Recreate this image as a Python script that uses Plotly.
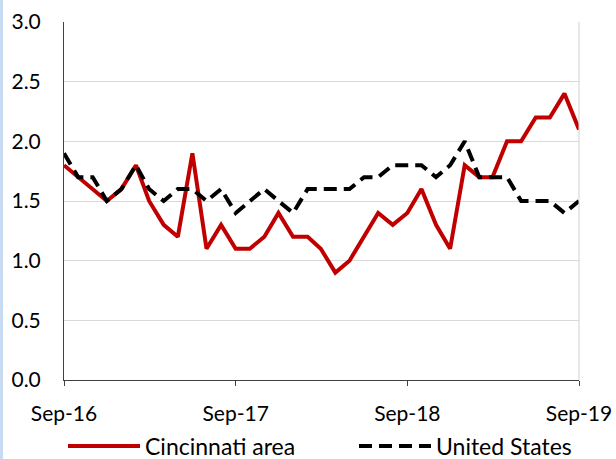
import pandas as pd
import plotly.graph_objects as go

months = pd.date_range("2016-09-01", "2019-09-01", freq="MS")

cincinnati = [1.8, 1.7, 1.6, 1.5, 1.6, 1.8, 1.5, 1.3, 1.2, 1.9, 1.1, 1.3,
              1.1, 1.1, 1.2, 1.4, 1.2, 1.2, 1.1, 0.9, 1.0, 1.2, 1.4, 1.3,
              1.4, 1.6, 1.3, 1.1, 1.8, 1.7, 1.7, 2.0, 2.0, 2.2, 2.2, 2.4, 2.1]
united_states = [1.9, 1.7, 1.7, 1.5, 1.6, 1.8, 1.6, 1.5, 1.6, 1.6, 1.5, 1.6,
                 1.4, 1.5, 1.6, 1.5, 1.4, 1.6, 1.6, 1.6, 1.6, 1.7, 1.7, 1.8,
                 1.8, 1.8, 1.7, 1.8, 2.0, 1.7, 1.7, 1.7, 1.5, 1.5, 1.5, 1.4, 1.5]

tick_dates = ["2016-09-01", "2017-09-01", "2018-09-01", "2019-09-01"]
tick_labels = ["Sep-16", "Sep-17", "Sep-18", "Sep-19"]
y_ticks = [0, 0.5, 1.0, 1.5, 2.0, 2.5, 3.0]

FONT = "Lato"
W, H = 616, 459
ML, MR, MT, MB = 64, 37, 22, 79
PW, PH = W - ML - MR, H - MT - MB
LEG_Y = -(446 - 380) / PH

fig = go.Figure()
fig.add_trace(go.Scatter(x=months, y=cincinnati, mode="lines", name="Cincinnati area",
                         line=dict(color="#c00000", width=4), legend="legend"))
fig.add_trace(go.Scatter(x=months, y=united_states, mode="lines", name="United States",
                         line=dict(color="#000000", width=4, dash="13px,7px"), legend="legend2"))

legend_common = dict(orientation="h", xanchor="left", y=LEG_Y, yanchor="middle",
                     itemwidth=72, font=dict(size=23, family=FONT),
                     bgcolor="rgba(0,0,0,0)")

fig.update_layout(
    width=W, height=H,
    margin=dict(l=ML, r=MR, t=MT, b=MB, autoexpand=False),
    paper_bgcolor="white", plot_bgcolor="white",
    font=dict(family=FONT, size=21, color="#000000"),
    showlegend=True,
    legend=dict(x=-1 / PW, **legend_common),
    legend2=dict(x=290 / PW, **legend_common),
    xaxis=dict(range=[months[0], months[-1]], tickvals=tick_dates, ticktext=tick_labels,
               showgrid=False, showline=True, linecolor="#404040", linewidth=1,
               ticks="outside", ticklen=5, tickcolor="#404040", zeroline=False,
               ticklabelstandoff=10, automargin=False),
    xaxis2=dict(overlaying="x", matches="x", anchor="y", range=[months[0], months[-1]],
                tickvals=tick_dates, showticklabels=False, showgrid=False, showline=False,
                ticks="inside", ticklen=5, tickcolor="#404040", zeroline=False, automargin=False),
    yaxis=dict(range=[0, 3.0], tickvals=y_ticks, tickformat=".1f",
               showgrid=True, gridcolor="#d9d9d9", gridwidth=1,
               showline=True, linecolor="#404040", linewidth=1,
               ticks="", zeroline=False, ticklabelstandoff=18, automargin=False),
)

# right border of plot area
fig.add_shape(type="line", xref="paper", yref="paper", x0=1, x1=1, y0=0, y1=1,
              line=dict(color="#d0d0d0", width=1))
# light blue strip at left edge of image
fig.add_shape(type="rect", xref="paper", yref="paper", x0=-ML / PW, x1=-(ML - 3) / PW,
              y0=-MB / PH, y1=1 + MT / PH,
              line=dict(width=0), fillcolor="#c9dbf2", layer="below")

fig.write_html("out.html", config={"displayModeBar": False},
               post_script="document.body.style.margin='0';document.body.style.overflow='hidden';")
